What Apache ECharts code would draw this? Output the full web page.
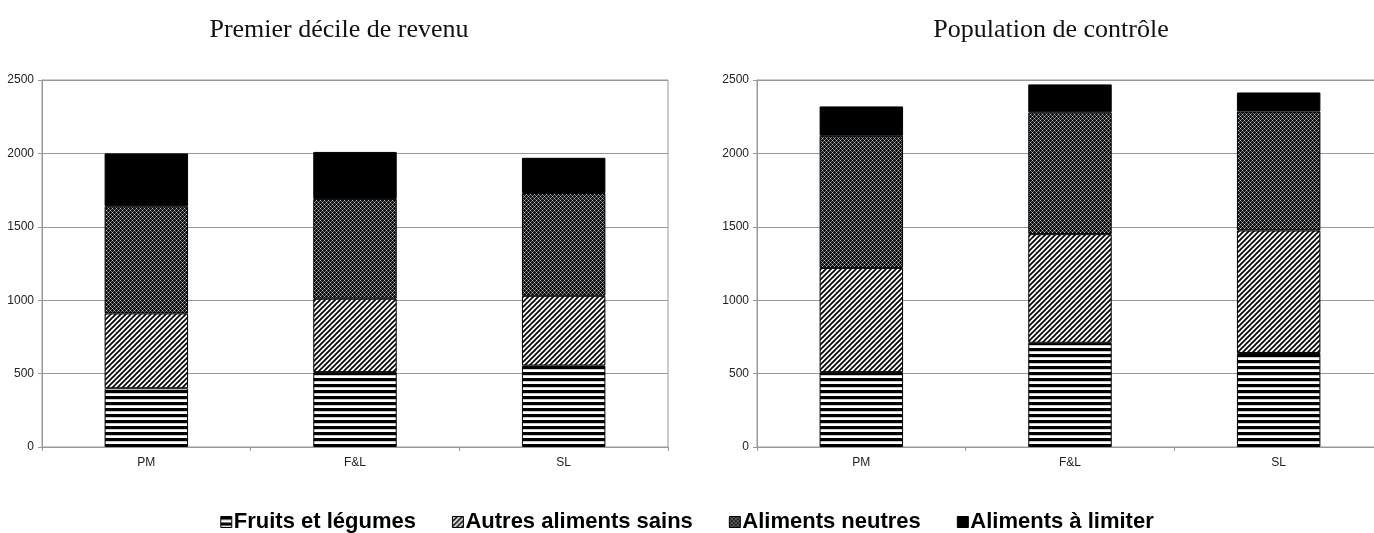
<!DOCTYPE html>
<html>
<head>
<meta charset="utf-8">
<script src="https://cdn.jsdelivr.net/npm/echarts@6/dist/echarts.min.js"></script>
<style>
html,body{margin:0;padding:0;background:#fff;}
#chart{width:1374px;height:533px;}
</style>
</head>
<body>
<div id="chart"></div>
<script>
// ---- Data ----
var categories = ['PM', 'F&L', 'SL'];
var seriesNames = ['Fruits et légumes', 'Autres aliments sains', 'Aliments neutres', 'Aliments à limiter'];
var titles = ['Premier décile de revenu', 'Population de contrôle'];
var yTicks = [0, 500, 1000, 1500, 2000, 2500];

// Premier décile de revenu
var lowFruits  = [400, 510, 555];
var lowAutres  = [510, 500, 475];
var lowNeutres = [730, 680, 700];
var lowLimiter = [360, 320, 240];

// Population de contrôle
var ctlFruits  = [510, 710, 640];
var ctlAutres  = [710, 740, 835];
var ctlNeutres = [900, 830, 810];
var ctlLimiter = [200, 190, 130];

// ---- Patterns ----
function makeTile(w, h, draw) {
  var c = document.createElement('canvas');
  c.width = w; c.height = h;
  var ctx = c.getContext('2d');
  ctx.fillStyle = '#fff';
  ctx.fillRect(0, 0, w, h);
  draw(ctx, w, h);
  return c;
}
var hStripe = makeTile(6, 6, function (ctx, w, h) {
  ctx.fillStyle = '#000';
  ctx.fillRect(0, 0, w, 3.2);
});
var diagStripe = makeTile(5, 5, function (ctx, w, h) {
  ctx.strokeStyle = '#000';
  ctx.lineWidth = 1.7;
  for (var k = -1; k <= 1; k++) {
    ctx.beginPath();
    ctx.moveTo(-1 + k * w, h + 1);
    ctx.lineTo(w + 1 + k * w, -1);
    ctx.stroke();
  }
});
var lattice = makeTile(4, 4, function (ctx, w, h) {
  ctx.fillStyle = '#111';
  ctx.fillRect(0, 0, w, h);
  ctx.fillStyle = '#b8c0c8';
  ctx.fillRect(0, 0, 1, 1);
  ctx.fillRect(2, 2, 1, 1);
  ctx.fillStyle = '#6a7076';
  ctx.fillRect(1, 1, 1, 1);
  ctx.fillRect(3, 3, 1, 1);
  ctx.fillRect(1, 3, 1, 1);
  ctx.fillRect(3, 1, 1, 1);
});
var fills = [
  { image: hStripe, repeat: 'repeat' },
  { image: diagStripe, repeat: 'repeat' },
  { image: lattice, repeat: 'repeat' },
  '#000'
];

var chart = echarts.init(document.getElementById('chart'), null, { renderer: 'canvas' });

var grids = [
  { left: 42, top: 80, width: 626, height: 367, show: true, borderColor: '#999', borderWidth: 1, outerBoundsMode: 'none', containLabel: false },
  { left: 757, top: 80, width: 626, height: 367, show: true, borderColor: '#999', borderWidth: 1, outerBoundsMode: 'none', containLabel: false }
];

function xAxisFor(i) {
  return {
    type: 'category', gridIndex: i, data: categories,
    axisLine: { lineStyle: { color: '#999', width: 1 } },
    axisTick: { show: true, length: 4, lineStyle: { color: '#999' } },
    axisLabel: { color: '#222', fontFamily: 'Liberation Sans, Arial, sans-serif', fontSize: 12, margin: 10 }
  };
}
function yAxisFor(i) {
  return {
    type: 'value', gridIndex: i, min: yTicks[0], max: yTicks[yTicks.length - 1], interval: yTicks[1] - yTicks[0],
    axisLine: { show: true, lineStyle: { color: '#999', width: 1 } },
    axisTick: { show: true, length: 4, lineStyle: { color: '#999' } },
    splitLine: { show: true, lineStyle: { color: '#999', width: 1 } },
    axisLabel: { color: '#222', fontFamily: 'Liberation Sans, Arial, sans-serif', fontSize: 12, margin: 8,
      formatter: function (v) { return String(v); } }
  };
}

var groups = [
  [lowFruits, lowAutres, lowNeutres, lowLimiter],
  [ctlFruits, ctlAutres, ctlNeutres, ctlLimiter]
];
var series = [];
groups.forEach(function (g, gi) {
  g.forEach(function (vals, si) {
    series.push({
      name: seriesNames[si], type: 'bar', stack: 'g' + gi,
      xAxisIndex: gi, yAxisIndex: gi,
      data: vals,
      barWidth: '40%',
      itemStyle: { color: fills[si], borderColor: '#000', borderWidth: 1 },
      emphasis: { disabled: true }
    });
  });
});

chart.setOption({
  animation: false,
  backgroundColor: '#fff',
  title: [
    { text: titles[0], left: 334, top: 12, textAlign: 'center',
      textStyle: { fontFamily: 'Liberation Serif, Times New Roman, serif', fontSize: 26, fontWeight: 'normal', color: '#111' } },
    { text: titles[1], left: 1046, top: 12, textAlign: 'center',
      textStyle: { fontFamily: 'Liberation Serif, Times New Roman, serif', fontSize: 26, fontWeight: 'normal', color: '#111' } }
  ],
  legend: {
    data: seriesNames,
    left: 'center', top: 506,
    icon: 'rect', itemWidth: 11, itemHeight: 11, itemGap: 36,
    itemStyle: { borderColor: '#000', borderWidth: 1 },
    textStyle: { fontFamily: 'Liberation Sans, Arial, sans-serif', fontSize: 22, fontWeight: 'bold', color: '#000', padding: [0, 0, 0, -3] },
    selectedMode: false
  },
  grid: grids,
  xAxis: [xAxisFor(0), xAxisFor(1)],
  yAxis: [yAxisFor(0), yAxisFor(1)],
  series: series
});
</script>
</body>
</html>
